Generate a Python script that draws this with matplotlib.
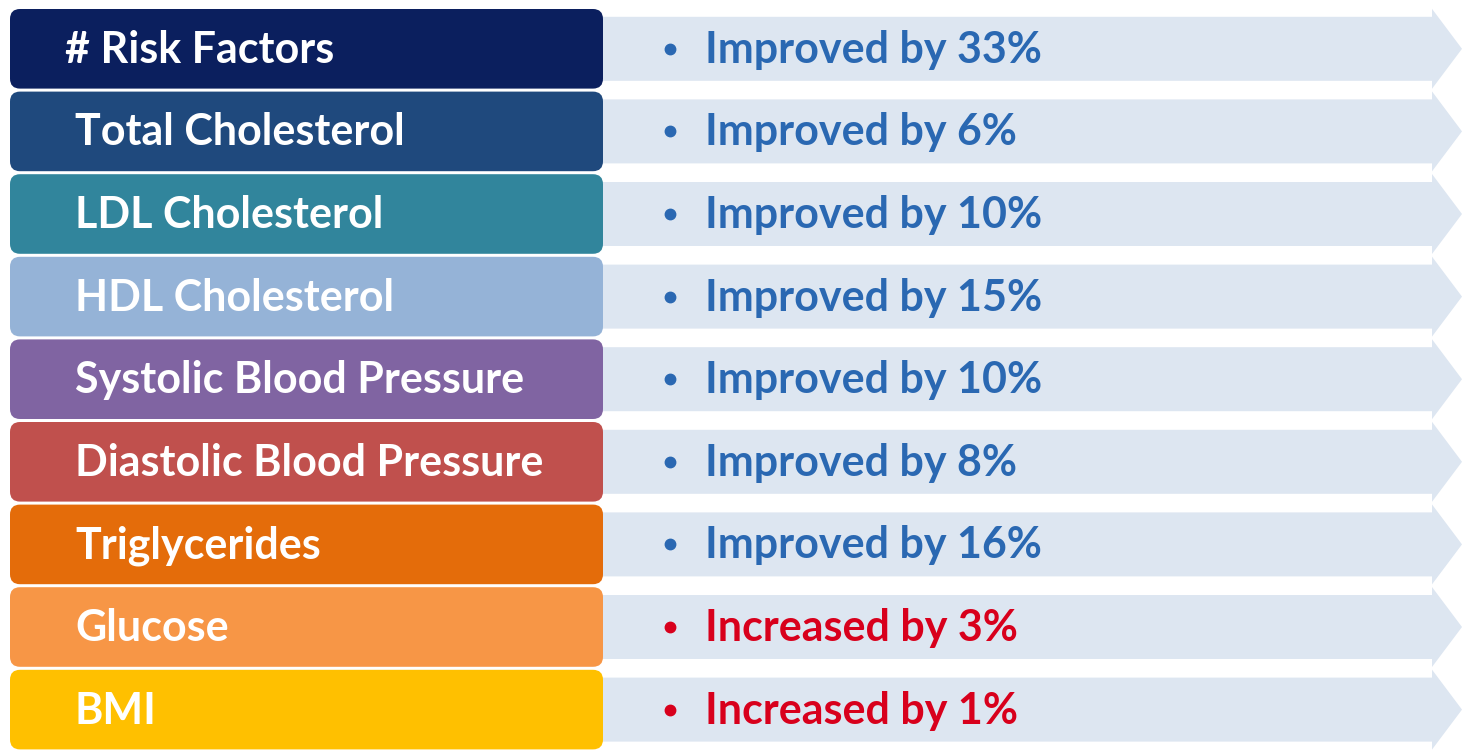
import matplotlib
matplotlib.use("Agg")
import matplotlib.pyplot as plt
from matplotlib.patches import FancyBboxPatch, Polygon

categories = ["# Risk Factors", "Total Cholesterol", "LDL Cholesterol", "HDL Cholesterol",
              "Systolic Blood Pressure", "Diastolic Blood Pressure", "Triglycerides",
              "Glucose", "BMI"]
change_pct = [33, 6, 10, 15, 10, 8, 16, 3, 1]
direction = ["Improved", "Improved", "Improved", "Improved", "Improved", "Improved",
             "Improved", "Increased", "Increased"]
box_colors = ["#0b1f5e", "#1f497d", "#31859c", "#95b3d7", "#8064a2", "#c0504d",
              "#e46c0a", "#f79646", "#ffc000"]

W, H = 1465, 755
fig = plt.figure(figsize=(W / 100, H / 100), dpi=100)
ax = fig.add_axes([0, 0, 1, 1])
ax.set_xlim(0, W)
ax.set_ylim(H, 0)
ax.axis("off")

top, pitch = 7.5, 82.6
left_x0, left_x1 = 10, 603
bar_x1, tip_x = 1432, 1462
bar_h = 64
txt_col = {"Improved": "#2a68b2", "Increased": "#d8001c"}

for i, (cat, val, d, col) in enumerate(zip(categories, change_pct, direction, box_colors)):
    y0 = top + i * pitch
    yc = y0 + pitch / 2
    by0, by1 = yc - bar_h / 2, yc + bar_h / 2
    ax.add_patch(Polygon([(595, by0), (bar_x1, by0), (bar_x1, yc - 40), (tip_x, yc),
                          (bar_x1, yc + 40), (bar_x1, by1), (595, by1)],
                         closed=True, fc="#dde6f1", ec="none", zorder=1))
    ax.add_patch(FancyBboxPatch((left_x0 + 6, y0 + 1.5 + 6), left_x1 - left_x0 - 12, pitch - 3 - 12,
                                boxstyle="round,pad=6,rounding_size=10",
                                fc=col, ec="none", zorder=2))
    ax.text(75 if i else 65, yc + 1, cat, color="white", fontsize=31, fontweight="bold",
            family="Lato", va="center", ha="left", zorder=3)
    ax.plot([670], [yc], marker="o", markersize=7.5, color=txt_col[d], zorder=3)
    ax.text(705, yc + 1, f"{d} by {val}%", color=txt_col[d], fontsize=31, fontweight="bold",
            family="Lato", va="center", ha="left", zorder=3)

fig.savefig("out.png", dpi=100, facecolor="white")
